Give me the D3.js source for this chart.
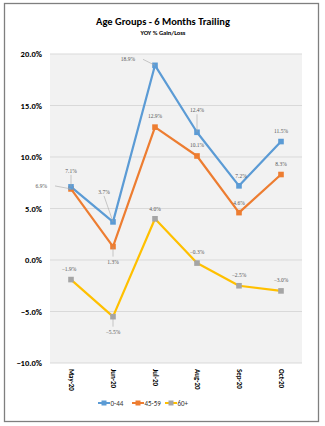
<!DOCTYPE html>
<html><head><meta charset="utf-8">
<script src="https://cdn.jsdelivr.net/npm/d3@7/dist/d3.min.js"></script>
<style>body{margin:0;background:#fff;font-family:Calibri,"Liberation Sans Narrow","Liberation Sans",Arial,sans-serif;}</style>
</head><body><svg id="c" width="325" height="426"></svg>
<script>
const months = ["May-20","Jun-20","Jul-20","Aug-20","Sep-20","Oct-20"];
const s044 = [7.1, 3.7, 18.9, 12.4, 7.2, 11.5];
const s4559 = [6.9, 1.3, 12.9, 10.1, 4.6, 8.3];
const s60 = [-1.9, -5.5, 4.0, -0.3, -2.5, -3.0];
const yTicks = [-10, -5, 0, 5, 10, 15, 20];
const seriesNames = ["0-44","45-59","60+"];

(function(){
const series = [
  {name: seriesNames[0], values: s044, line: "#5b9bd5", marker: "#5b9bd5",
   labels: [[0,-14,1],[-9,-28,1],[-20,-4,1],[0,-20,1],[2,-8,0],[0,-9,0]]},
  {name: seriesNames[1], values: s4559, line: "#ed7d31", marker: "#ed7d31",
   labels: [[-24,-1,1],[0,17,1],[0,-9,0],[0,-9,0],[0,-8,0],[0,-9,0]]},
  {name: seriesNames[2], values: s60, line: "#ffc000", marker: "#a5a5a5",
   labels: [[-2,-9,0],[0,17,1],[0,-8,0],[0,-9,0],[0,-9,0],[0,-9,0]]}
];

const svg = d3.select("#c");
svg.append("rect").attr("x",4.5).attr("y",3.5).attr("width",314).attr("height",418)
  .attr("fill","#fff").attr("stroke","#7f7f7f").attr("stroke-width",1.3);

const pL = 50, pR = 302, pT = 54, pB = 363;
const x = d3.scaleBand().domain(months).range([pL, pR]);
const y = d3.scaleLinear().domain([-10, 20]).range([pB, pT]);

svg.append("rect").attr("x",pL).attr("y",pT).attr("width",pR-pL).attr("height",pB-pT).attr("fill","#f2f2f2");

svg.append("g").selectAll("line").data(yTicks).join("line")
  .attr("x1",pL).attr("x2",pR).attr("y1",d=>y(d)).attr("y2",d=>y(d))
  .attr("stroke","#d9d9d9").attr("stroke-width",1);

const yAxis = d3.axisLeft(y).tickValues(yTicks).tickSize(0).tickPadding(8).tickFormat(d=>d3.format(".1f")(d)+"%");
const yg = svg.append("g").attr("transform",`translate(${pL},0)`).call(yAxis);
yg.select(".domain").remove();
yg.selectAll("text").attr("font-size",8.5).attr("font-weight","bold").attr("fill","#000")
  .attr("font-family","Calibri,'Liberation Sans',Arial,sans-serif");

const xAxis = d3.axisBottom(x).tickSize(0).tickPadding(0);
const xg = svg.append("g").attr("transform",`translate(0,${pB})`).call(xAxis);
xg.select(".domain").remove();
xg.selectAll("text").attr("font-size",7).attr("font-weight","bold").attr("fill","#000")
  .attr("transform","rotate(90)").attr("text-anchor","start").attr("dy","0.35em").attr("x",6).attr("y",0)
  .attr("font-family","Calibri,'Liberation Sans',Arial,sans-serif");

const cx = d => x(d)+x.bandwidth()/2;
const line = d3.line().x((d,i)=>cx(months[i])).y(d=>y(d));

series.slice().reverse().forEach(s=>{
  svg.append("path").datum(s.values).attr("d",line).attr("fill","none")
    .attr("stroke",s.line).attr("stroke-width",2.2).attr("stroke-linejoin","round");
});
series.slice().reverse().forEach(s=>{
  svg.append("g").selectAll("rect").data(s.values).join("rect")
    .attr("x",(d,i)=>cx(months[i])-2.8).attr("y",d=>y(d)-2.8).attr("width",5.6).attr("height",5.6)
    .attr("fill",s.marker);
});
series.forEach(s=>{
  const g = svg.append("g");
  s.values.forEach((v,i)=>{
    const px = cx(months[i]), py = y(v);
    const [dx,dy,lead] = s.labels[i];
    const lx = px+dx, ly = py+dy;
    if(lead){
      let ex = lx, ey = ly + (dy<0 ? 2 : -7);
      if(Math.abs(dx)>15){ ex = lx + (dx<0? 8 : -8); ey = ly-2; }
      g.append("line").attr("x1",ex).attr("y1",ey).attr("x2",px).attr("y2",py)
        .attr("stroke","#a6a6a6").attr("stroke-width",0.6);
    }
    g.append("text").attr("x",lx).attr("y",ly).attr("text-anchor",Math.abs(dx)>15?(dx<0?"end":"start"):"middle")
      .attr("font-size",5.5).attr("fill","#595959").attr("font-family","'Liberation Serif','DejaVu Serif',serif")
      .text(d3.format(".1f")(v)+"%");
  });
});

svg.append("text").attr("x",163).attr("y",25).attr("text-anchor","middle").attr("font-size",10.5)
  .attr("font-weight","bold").attr("fill","#000").attr("font-family","Calibri,'Liberation Sans',Arial,sans-serif")
  .text("Age Groups - 6 Months Trailing");
svg.append("text").attr("x",163).attr("y",35).attr("text-anchor","middle").attr("font-size",6.5)
  .attr("font-weight","bold").attr("fill","#000").attr("font-family","Calibri,'Liberation Sans',Arial,sans-serif")
  .text("YOY % Gain/Loss");

const legX = [98, 132, 165];
const lg = svg.append("g");
series.forEach((s,i)=>{
  const g = lg.append("g").attr("transform",`translate(${legX[i]},403)`);
  g.append("line").attr("x1",0).attr("x2",12).attr("y1",0).attr("y2",0).attr("stroke",s.line).attr("stroke-width",2);
  g.append("rect").attr("x",3.5).attr("y",-2.5).attr("width",5).attr("height",5).attr("fill",s.marker);
  g.append("text").attr("x",12.5).attr("y",2.5).attr("font-size",7).attr("fill","#333")
    .attr("font-family","Calibri,'Liberation Sans',Arial,sans-serif").text(s.name);
});
})();
</script></body></html>
